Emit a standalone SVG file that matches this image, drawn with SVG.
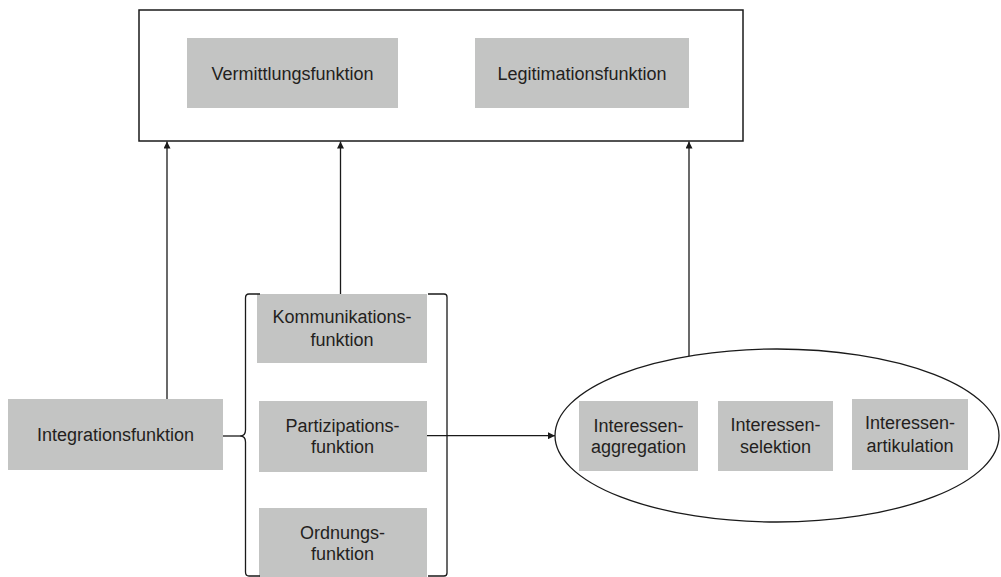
<svg xmlns="http://www.w3.org/2000/svg" width="1001" height="577" viewBox="0 0 1001 577">
  <style>
    .box { fill: #c3c4c3; }
    .frame { fill: #ffffff; stroke: #1a1a1a; stroke-width: 1.5; }
    .lbl { font-family: "Liberation Sans", Arial, sans-serif; font-size: 18px; fill: #231f20; text-anchor: middle; }
    .conn { fill: none; stroke: #1a1a1a; stroke-width: 1.3; }
  </style>
  <defs>
    <marker id="arrow" viewBox="0 0 10 10" refX="10" refY="5" markerWidth="8" markerHeight="7" markerUnits="userSpaceOnUse" orient="auto">
      <path d="M0,0 L10,5 L0,10 Z" fill="#1a1a1a"/>
    </marker>
  </defs>
  <rect width="1001" height="577" fill="#ffffff"/>

  <!-- upper frame with its two functions -->
  <g id="top-frame">
    <rect class="frame" x="139" y="10" width="604" height="131"/>
  </g>
  <g id="vermittlung">
    <rect class="box" x="187" y="38" width="211" height="70"/>
    <text class="lbl" x="292.5" y="80">Vermittlungsfunktion</text>
  </g>
  <g id="legitimation">
    <rect class="box" x="475" y="38" width="214" height="70"/>
    <text class="lbl" x="582" y="80">Legitimationsfunktion</text>
  </g>

  <!-- left column -->
  <g id="integration">
    <rect class="box" x="8" y="399" width="215" height="71"/>
    <text class="lbl" x="115.5" y="441">Integrationsfunktion</text>
  </g>

  <!-- bracketed group -->
  <g id="kommunikation">
    <rect class="box" x="257" y="294" width="170" height="69"/>
    <text class="lbl" x="342" y="323">Kommunikations-</text>
    <text class="lbl" x="342" y="346">funktion</text>
  </g>
  <g id="partizipation">
    <rect class="box" x="259" y="401" width="168" height="71"/>
    <text class="lbl" x="342.5" y="432">Partizipations-</text>
    <text class="lbl" x="342.5" y="453">funktion</text>
  </g>
  <g id="ordnung">
    <rect class="box" x="259" y="508" width="168" height="69"/>
    <text class="lbl" x="342.5" y="539">Ordnungs-</text>
    <text class="lbl" x="342.5" y="560">funktion</text>
  </g>
  <g id="brackets">
    <path class="conn" d="M260,294 L249,294 Q245.5,294 245.5,298 L245.5,430 Q245.5,436 240,436 Q245.5,436 245.5,442 L245.5,572 Q245.5,576 249,576 L260,576"/>
    <path class="conn" d="M428,294 L444,294 Q447,294 447,297 L447,573 Q447,576 444,576 L428,576"/>
  </g>

  <!-- interest ellipse -->
  <g id="interessen">
    <ellipse cx="777" cy="435.5" rx="222" ry="86.5" fill="none" stroke="#1a1a1a" stroke-width="1.3"/>
  </g>
  <g id="aggregation">
    <rect class="box" x="579" y="401" width="119" height="70"/>
    <text class="lbl" x="638.5" y="432">Interessen-</text>
    <text class="lbl" x="638.5" y="453">aggregation</text>
  </g>
  <g id="selektion">
    <rect class="box" x="718" y="401" width="115" height="70"/>
    <text class="lbl" x="775.5" y="431">Interessen-</text>
    <text class="lbl" x="775.5" y="453">selektion</text>
  </g>
  <g id="artikulation">
    <rect class="box" x="852" y="399" width="116" height="71"/>
    <text class="lbl" x="910" y="429">Interessen-</text>
    <text class="lbl" x="910" y="452">artikulation</text>
  </g>

  <!-- connectors -->
  <g id="connectors">
    <line class="conn" x1="167" y1="399" x2="167" y2="141.5" marker-end="url(#arrow)"/>
    <line class="conn" x1="340.5" y1="294" x2="340.5" y2="141.5" marker-end="url(#arrow)"/>
    <line class="conn" x1="689" y1="356" x2="689" y2="141.5" marker-end="url(#arrow)"/>
    <line class="conn" x1="223" y1="436" x2="240" y2="436"/>
    <line class="conn" x1="427" y1="435.7" x2="555" y2="435.7" marker-end="url(#arrow)"/>
  </g>
</svg>
